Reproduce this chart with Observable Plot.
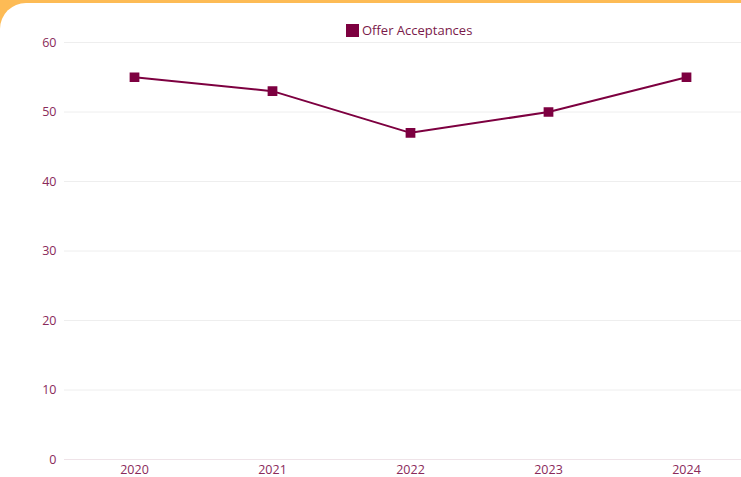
<!DOCTYPE html>
<html><head><meta charset="utf-8">
<script src="https://cdn.jsdelivr.net/npm/d3@7"></script>
<script src="https://cdn.jsdelivr.net/npm/@observablehq/plot@0.6"></script>
<style>
html,body{margin:0;padding:0;width:741px;height:477px;overflow:hidden;background:#fdbb55;}
#card{position:absolute;left:0;top:3px;width:741px;height:474px;background:#fff;border-top-left-radius:26px;overflow:hidden;}
#legend{position:absolute;left:346px;top:18px;display:flex;align-items:center;font-family:"Open Sans",sans-serif;font-size:13px;color:#7a1a4a;}
#legend span.sw{display:inline-block;width:13px;height:13px;background:#7d0040;margin-right:3px;}
#chart{position:absolute;left:0;top:0;}
</style></head>
<body><div id="card"><div id="chart"></div><div id="legend"><span class="sw"></span>Offer Acceptances</div></div>
<script>
const years = ["2020","2021","2022","2023","2024"];
const acceptances = [55, 53, 47, 50, 55];
const yTicks = [0,10,20,30,40,50,60];
const seriesName = "Offer Acceptances";

const data = years.map((y,i)=>({year:y, value:acceptances[i]}));
const plot = Plot.plot({
  width: 741, height: 474,
  marginTop: 39, marginBottom: 18, marginLeft: 64, marginRight: 0,
  style:{fontFamily:"'Open Sans', sans-serif", fontSize:"12.5px", color:"#8a2a5a", background:"transparent"},
  x:{type:"point", domain:years, range:[133.5, 686], padding:0, label:null},
  y:{domain:[0,60], ticks:yTicks, label:null},
  marks:[
    Plot.gridY(yTicks.filter(d=>d>0), {stroke:"#eeeeee", strokeOpacity:1}),
    Plot.ruleY([0], {stroke:"#efe3e8"}),
    Plot.axisY(yTicks, {tickSize:0, tickPadding:8, fill:"#8a2a5a", fontSize:12.5}),
    Plot.axisX(years, {tickSize:0, tickPadding:6, fill:"#8a2a5a", fontSize:12.5}),
    Plot.line(data, {x:"year", y:"value", stroke:"#7d0040", strokeWidth:2}),
    Plot.dot(data, {x:"year", y:"value", symbol:"square", fill:"#7d0040", r:5.5})
  ]
});
document.getElementById("chart").appendChild(plot);
</script></body></html>
